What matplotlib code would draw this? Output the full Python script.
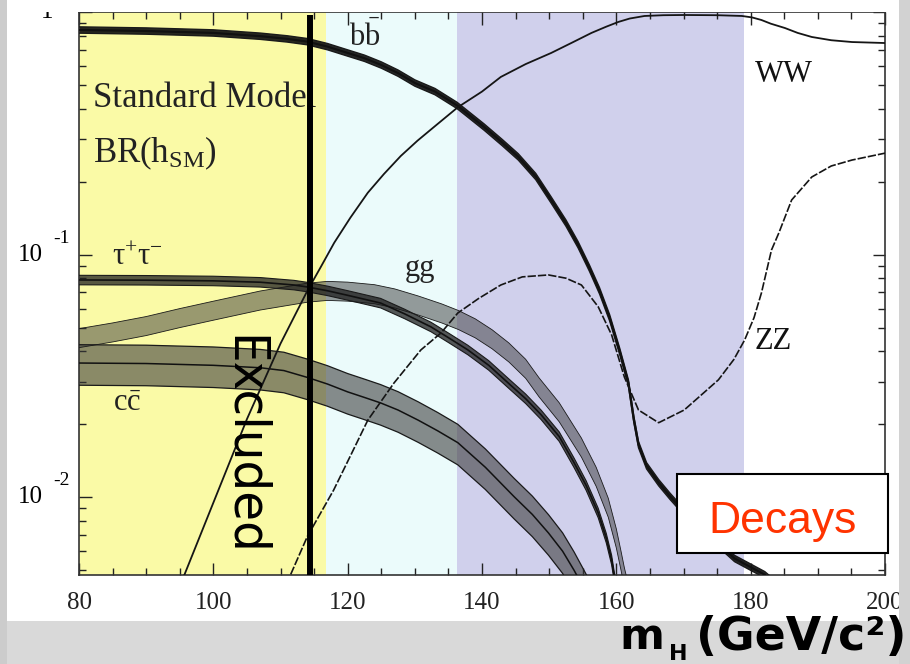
import matplotlib
matplotlib.use("Agg")
import matplotlib.pyplot as plt
import numpy as np
from matplotlib.patches import Rectangle
from matplotlib.ticker import FixedLocator, LogLocator, NullFormatter, MultipleLocator
from matplotlib.transforms import blended_transform_factory, offset_copy

# ---- Standard Model Higgs branching ratios vs. Higgs mass (GeV/c^2) ----
bb_mass = [78, 90, 100, 107, 111, 114, 117, 120, 122.5, 125, 127.5, 130, 133, 136.3, 140.3, 143,
           145.4, 148, 150.3, 152.5, 154.3, 156, 157.5, 159, 160.5, 161.8, 162.6, 163.3, 164.5,
           166.3, 168, 170.1, 174, 177.6, 182.1, 185]
bb_br = [0.845, 0.835, 0.82, 0.795, 0.775, 0.755, 0.72, 0.678, 0.645, 0.605, 0.56, 0.51, 0.47,
         0.412, 0.336, 0.29, 0.253, 0.21, 0.168, 0.135, 0.11, 0.088, 0.071, 0.055, 0.04, 0.0296,
         0.021, 0.0165, 0.0135, 0.0115, 0.0101, 0.0087, 0.0069, 0.0056, 0.0048, 0.0041]

ww_mass = [94, 95.7, 100, 105, 110, 114, 116, 118, 120.4, 123, 125.4, 127.9, 130.4, 132.8, 136.4,
           140, 142.8, 146.5, 150.3, 153.5, 156.3, 158.5, 160.3, 162, 164.2, 167, 170.1, 175,
           178.7, 180.2, 181.6, 183, 185.1, 187, 189.1, 192, 195.1, 200]
ww_br = [0.0040, 0.0048, 0.0095, 0.021, 0.043, 0.071, 0.089, 0.112, 0.142, 0.18, 0.215, 0.255,
         0.295, 0.335, 0.405, 0.47, 0.54, 0.61, 0.678, 0.75, 0.82, 0.87, 0.91, 0.94, 0.963, 0.97,
         0.972, 0.97, 0.963, 0.95, 0.927, 0.895, 0.859, 0.82, 0.789, 0.765, 0.752, 0.745]

zz_mass = [110.5, 111.5, 114, 117.9, 120.5, 123, 126.9, 130.9, 133.9, 136.4, 139.5, 142.8, 146,
           149.9, 152.5, 154.8, 157.3, 159.3, 161.2, 163.3, 166.3, 170.1, 172.5, 175.2, 177.5,
           179.1, 180.5, 181.6, 183.1, 184.2, 186.1, 189.1, 192, 195.1, 200]
zz_br = [0.0040, 0.0048, 0.0069, 0.0107, 0.015, 0.0208, 0.0296, 0.0405, 0.0476, 0.0575, 0.066,
         0.075, 0.081, 0.0825, 0.080, 0.075, 0.061, 0.0467, 0.0313, 0.0229, 0.0203, 0.0229,
         0.0262, 0.0305, 0.037, 0.0445, 0.055, 0.0695, 0.1045, 0.123, 0.168, 0.209, 0.232,
         0.2455, 0.262]

tau_mass = [78, 90, 100, 107, 112, 114, 117, 120, 124.9, 128.5, 132.4, 135, 137.9, 141, 143.9,
            146.5, 148.8, 151.5, 153.7, 155.5, 157.3, 158.5, 159.3, 159.7, 160.3]
tau_br = [0.0787, 0.0785, 0.078, 0.077, 0.075, 0.0736, 0.071, 0.068, 0.0632, 0.057, 0.0504,
          0.0455, 0.0405, 0.035, 0.0296, 0.0255, 0.0219, 0.0178, 0.0139, 0.0112, 0.00863,
          0.0068, 0.00552, 0.0047, 0.0038]

gg_mass = [78, 85, 90, 95, 100, 107, 114, 117, 120, 124, 127, 130.5, 134, 136.5, 139, 141.5, 144,
           146.5, 148.5, 151.5, 154.8, 157, 158.8, 160, 160.7, 161.2, 162]
gg_br = [0.0445, 0.048, 0.051, 0.055, 0.059, 0.065, 0.070, 0.0712, 0.0707, 0.069, 0.0663, 0.062,
         0.0575, 0.054, 0.0499, 0.045, 0.0397, 0.034, 0.0285, 0.0225, 0.0161, 0.0122, 0.0091,
         0.0068, 0.0055, 0.0047, 0.0038]

cc_mass = [78, 90, 100, 107, 110.5, 114, 117, 120, 122.5, 124.9, 127.5, 130.5, 133.4, 136.4,
           140.5, 144.8, 147.5, 149.9, 152, 153.7, 155, 156.5]
cc_br = [0.0358, 0.0356, 0.035, 0.0342, 0.0333, 0.0312, 0.0293, 0.0272, 0.0258, 0.0245, 0.0229,
         0.0208, 0.0188, 0.0168, 0.0133, 0.01005, 0.0085, 0.00713, 0.0060, 0.00501, 0.0043,
         0.0036]

# relative theoretical uncertainty of each channel (band half-width)
bb_unc, tau_unc, gg_unc, cc_unc = 0.03, 0.045, 0.09, 0.19

# mass ranges of the shaded regions
lep_limit = 114.4
region_yellow = (80, 116.7)
region_cyan = (116.7, 136.3)
region_blue = (136.3, 179.0)

xticks = [80, 100, 120, 140, 160, 180, 200]

plt.rcParams["mathtext.fontset"] = "custom"
plt.rcParams["mathtext.rm"] = "Liberation Serif"
plt.rcParams["mathtext.it"] = "Liberation Serif:italic"
plt.rcParams["mathtext.bf"] = "Liberation Serif:bold"

W, H = 910, 664
fig = plt.figure(figsize=(W / 100, H / 100), dpi=100)
fig.patch.set_facecolor("#d9d9d9")

def px(x0, y0, x1, y1):
    """figure-fraction rectangle from pixel corners (top-left origin)"""
    return (x0 / W, 1 - y1 / H, (x1 - x0) / W, (y1 - y0) / H)

def fig_rect(x0, y0, x1, y1, zorder, **kw):
    r = px(x0, y0, x1, y1)
    fig.patches.append(Rectangle(r[:2], r[2], r[3], transform=fig.transFigure,
                                 zorder=zorder, **kw))

# white slide panel
fig_rect(7, 0, 899, 621, -5, facecolor="white", edgecolor="none")

ax = fig.add_axes(px(79, 12, 885, 575))
ax.set_xlim(80, 200)
ax.set_ylim(10 ** -2.32, 1.0)
ax.set_yscale("log")

# shaded mass regions
ax.axvspan(*region_yellow, facecolor="#fafaa6", edgecolor="none", zorder=0)
ax.axvspan(*region_cyan, facecolor="#ebfbfb", edgecolor="none", zorder=0)
ax.axvspan(*region_blue, facecolor="#d0d0ec", edgecolor="none", zorder=0)

def band(mass, br, unc, fc, alpha, edge_lw, center_lw):
    m = np.asarray(mass)
    b = np.asarray(br)
    lo, hi = b * (1 - unc), b * (1 + unc)
    ax.fill_between(m, lo, hi, facecolor=fc, alpha=alpha, edgecolor="none", zorder=2)
    ax.plot(m, lo, color="#1a1a1a", lw=edge_lw, zorder=3)
    ax.plot(m, hi, color="#1a1a1a", lw=edge_lw, zorder=3)
    if center_lw:
        ax.plot(m, b, color="#111111", lw=center_lw, zorder=3)

band(cc_mass, cc_br, cc_unc, "#3a3a3a", 0.58, 0.9, 1.1)
band(gg_mass, gg_br, gg_unc, "#3a3a3a", 0.5, 0.6, 0)
band(tau_mass, tau_br, tau_unc, "#202020", 0.75, 0.8, 1.2)
band(bb_mass, bb_br, bb_unc, "#101010", 0.9, 1.0, 1.6)

ax.plot(ww_mass, ww_br, color="#151515", lw=1.3, zorder=4)
ax.plot(zz_mass, zz_br, color="#151515", lw=1.2, ls=(0, (5, 1.2)), zorder=4)

# LEP exclusion line
ax.plot([lep_limit, lep_limit], [10 ** -2.32, 0.972], color="black", lw=4.3,
        solid_capstyle="butt", zorder=6)

# channel labels
serif = "Liberation Serif"
ax.text(122.5, 0.80, r"$\mathrm{b\bar{b}}$", fontsize=22, ha="center", va="center",
        color="#222222", zorder=5)
sm = ax.text(82.1, 0.44, "Standard Model", family=serif, fontsize=25, ha="left",
             va="center", color="#222222", zorder=5)
clip = Rectangle((80, 1e-3), lep_limit - 80, 2, transform=ax.transData)
sm.set_clip_path(clip)
ax.text(82.1, 0.262, r"$\mathrm{BR(h_{SM})}$", fontsize=25, ha="left", va="center",
        color="#222222", zorder=5)
ax.text(84.9, 0.098, r"$\mathrm{\tau^{+}\tau^{-}}$", fontsize=22, ha="left", va="center",
        color="#222222", zorder=5)
ax.text(130.7, 0.088, "gg", family=serif, fontsize=22, ha="center", va="center",
        color="#222222", zorder=5)
ax.text(87.2, 0.0247, r"$\mathrm{c\bar{c}}$", fontsize=22, ha="center", va="center",
        color="#222222", zorder=5)
ax.text(184.9, 0.555, "WW", family=serif, fontsize=22, ha="center", va="center",
        color="#111111", zorder=5)
ax.text(183.3, 0.0437, "ZZ", family=serif, fontsize=22, ha="center", va="center",
        color="#111111", zorder=5)

ax.text(230 / W, 1 - 335 / H, "Excluded", transform=fig.transFigure, family="DejaVu Sans",
        fontsize=35, rotation=-90, rotation_mode="anchor", ha="left", va="baseline",
        color="black", zorder=7)

# ticks
ax.xaxis.set_major_locator(FixedLocator(xticks))
ax.xaxis.set_minor_locator(MultipleLocator(5))
ax.yaxis.set_major_locator(LogLocator(base=10, numticks=10))
ax.yaxis.set_minor_locator(LogLocator(base=10, subs=np.arange(2, 10), numticks=10))
ax.yaxis.set_major_formatter(NullFormatter())
ax.yaxis.set_minor_formatter(NullFormatter())
ax.tick_params(which="both", direction="in", top=True, right=True, colors="#222222")
ax.tick_params(which="major", length=9, width=1.0)
ax.tick_params(which="minor", length=5, width=1.0)
ax.set_xticklabels([str(v) for v in xticks], family=serif, fontsize=18)
ax.tick_params(axis="x", pad=12)
for s in ax.spines.values():
    s.set_linewidth(1.2)
    s.set_color("#333333")

# y tick labels written as 10 with a raised exponent
ytr = blended_transform_factory(fig.transFigure, ax.transData)
for val, exp in [(0.1, "-1"), (0.01, "-2")]:
    ax.text(43 / W, val, "10", transform=ytr, family=serif, fontsize=18, ha="right",
            va="center", clip_on=False)
    ax.text(53 / W, val, exp, transform=offset_copy(ytr, fig=fig, y=12, units="points"),
            family=serif, fontsize=14, ha="left", va="center", clip_on=False)
ax.text(47 / W, 1.0, "1", transform=ytr, family=serif, fontsize=18, ha="center",
        va="center", clip_on=False)

# white strip above the frame
fig_rect(7, 0, 899, 11.5, 20, facecolor="white", edgecolor="none")

# Decays box
fig_rect(677, 474, 888, 553, 20, facecolor="white", edgecolor="black", lw=1.5)
fig.text(782.5 / W, 1 - 533 / H, "Decays", family="Liberation Sans", fontsize=32,
         color="#ff3300", ha="center", va="baseline", zorder=21)

# grey slide borders
fig_rect(899, 0, 910, 664, 20, facecolor="#d2d2d2", edgecolor="none")
fig_rect(0, 0, 7, 664, 20, facecolor="#cccccc", edgecolor="none")

# axis title
fig.text(907 / W, 1 - 650 / H, "(GeV/c²)", family="DejaVu Sans", weight="bold",
         fontsize=33, ha="right", va="baseline", zorder=22)
fig.text(669 / W, 1 - 660 / H, "H", family="DejaVu Sans", weight="bold",
         fontsize=16, ha="left", va="baseline", zorder=22)
fig.text(664 / W, 1 - 649 / H, "m", family="DejaVu Sans", weight="bold",
         fontsize=31, ha="right", va="baseline", zorder=22)

fig.savefig("out.png", dpi=100, facecolor=fig.get_facecolor())
